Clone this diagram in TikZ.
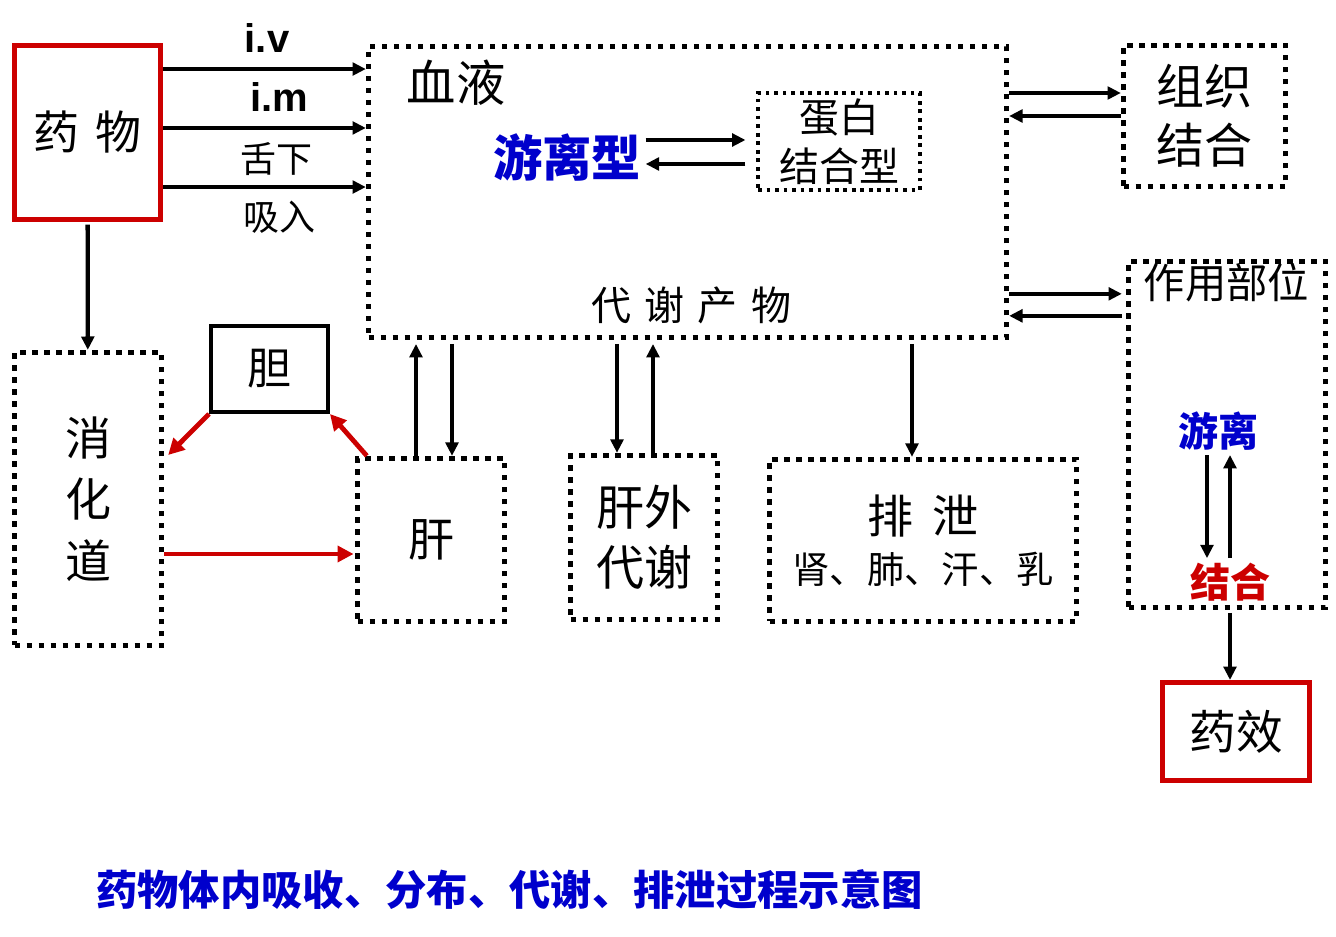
\documentclass[tikz,border=0pt]{standalone}
\usepackage{fontspec}
\setmainfont{Noto Sans CJK SC}
\newfontfamily\latin{Liberation Sans}
\usetikzlibrary{positioning,arrows.meta}
\definecolor{dred}{HTML}{CC0000}
\definecolor{dblue}{HTML}{0000CC}
\newcommand\fsz[2]{\fontsize{#1}{#2}\selectfont}

\begin{document}
\begin{tikzpicture}[x=0.75pt,y=-0.75pt,
  dotbox/.style={draw,line width=4pt,dash pattern=on 4pt off 5pt,inner sep=0,align=center},
  thinbox/.style={dotbox,line width=2.8pt,dash pattern=on 2.8pt off 3.6pt},
  redbox/.style={draw=dred,line width=3.8pt,inner sep=0,align=center},
  arr/.style={-{Triangle[length=10pt,width=9.5pt]},line width=3.2pt},
  rarr/.style={-{Triangle[length=12pt,width=12pt]},line width=3.6pt,dred}]
  \useasboundingbox (0,0) rectangle (1336,937);
  % boxes
  \node[redbox,minimum width=109.5pt,minimum height=130.5pt,font=\fsz{34.5}{40}] (drug) at (87.5,132.5) {药\hspace{12pt}物};
  \node[dotbox,minimum width=478.5pt,minimum height=218pt] (blood) at (687.5,192) {};
  \node[font=\fsz{37}{44}] (bl) at (456,83) {血液};
  \node[text=dblue,font=\bfseries\fsz{37}{44}] (free) at (567,157) {游离型};
  \node[thinbox,minimum width=121.5pt,minimum height=72.75pt,font=\fsz{30}{37}] (prot) at (839,141.5) {蛋白\\结合型};
  \node[font=\fsz{30}{36}] (meta) at (691,305) {代\hspace{10pt}谢\hspace{10pt}产\hspace{10pt}物};
  \node[dotbox,minimum width=121.5pt,minimum height=105.75pt,font=\fsz{36}{44.6}] (tissue) at (1204.5,116) {组织\\结合};
  \node[dotbox,minimum width=147.75pt,minimum height=259.5pt] (site) at (1227,434.5) {};
  \node[font=\fsz{31}{36}] (sitelbl) at (1226.5,283) {作用部位};
  \node[text=dblue,font=\bfseries\fsz{30}{36}] (fr2) at (1218,431) {游离};
  \node[text=dred,font=\bfseries\fsz{30}{36}] (bd2) at (1230,582) {结合};
  \node[redbox,minimum width=110.25pt,minimum height=73.5pt,font=\fsz{35}{40}] (effect) at (1236,731.5) {药效};
  \node[dotbox,minimum width=110.25pt,minimum height=219.75pt,font=\fsz{34.5}{46}] (gut) at (88,499) {消\\化\\道};
  \node[draw,line width=3pt,minimum width=87.75pt,minimum height=64.5pt,font=\fsz{33}{38}] (bile) at (269.5,369) {胆};
  \node[dotbox,minimum width=110.25pt,minimum height=122.25pt,font=\fsz{34.5}{40}] (liver) at (431,540) {肝};
  \node[dotbox,minimum width=110.25pt,minimum height=123pt,font=\fsz{36}{45}] (extra) at (644,537.5) {肝外\\代谢};
  \node[dotbox,minimum width=230.25pt,minimum height=121.5pt,font=\fsz{34.5}{37.5}] (excr) at (923,540.5)
    {排\hspace{14pt}泄\\\fsz{28}{34}肾、肺、汗、乳};
  % route labels
  \node[font=\latin\bfseries\fsz{30}{36},anchor=base] (iv) at (267,53) {i.v};
  \node[font=\latin\bfseries\fsz{30}{36},anchor=base] (im) at (279,112) {i.m};
  \node[font=\fsz{27}{32}] (sub) at (276,159) {舌下};
  \node[font=\fsz{27}{32}] (inh) at (279,217) {吸入};
  % drug -> blood
  \foreach \s/\n in {47.6/a1,3.4/a2,-40.9/a3}{
    \coordinate (\n) at ([yshift=\s pt]drug.east);
    \draw[arr] (\n) -- (\n -| blood.west);
  }
  \draw[arr,shorten <=2pt] (drug) -- (gut);
  % free <-> bound in blood
  \coordinate (f1) at ([yshift=12.75pt]free.east);
  \coordinate (f2) at ([yshift=-5.25pt]free.east);
  \draw[arr,shorten >=8pt] (f1) -- (f1 -| prot.west);
  \draw[arr,shorten <=8pt] (f2 -| prot.west) -- (f2);
  % blood <-> tissue, site
  \coordinate (t1) at ([yshift=17.25pt]tissue.west);
  \coordinate (t2) at (tissue.west);
  \draw[arr] (t1 -| blood.east) -- (t1);
  \draw[arr] (t2) -- (t2 -| blood.east);
  \coordinate (s1) at ([yshift=-26.25pt]site.north west);
  \coordinate (s2) at ([yshift=-42.75pt]site.north west);
  \draw[arr,shorten >=3pt] (s1 -| blood.east) -- (s1);
  \draw[arr,shorten <=3pt] (s2) -- (s2 -| blood.east);
  % blood <-> liver, extra, excretion
  \coordinate (l1) at ([xshift=-11.25pt]liver.north);
  \coordinate (l2) at ([xshift=15.75pt]liver.north);
  \draw[arr,shorten >=3pt] (l1) -- (l1 |- blood.south);
  \draw[arr,shorten <=3pt] (l2 |- blood.south) -- (l2);
  \coordinate (x1) at ([xshift=-20.25pt]extra.north);
  \coordinate (x2) at ([xshift=6.75pt]extra.north);
  \draw[arr,shorten <=3pt] (x1 |- blood.south) -- (x1);
  \draw[arr,shorten >=3pt] (x2) -- (x2 |- blood.south);
  \coordinate (k1) at ([xshift=-8.25pt]excr.north);
  \draw[arr,shorten <=3pt] (k1 |- blood.south) -- (k1);
  % site
  \coordinate (r1) at ([xshift=-8.25pt]fr2.south);
  \coordinate (r2) at ([xshift=9pt]fr2.south);
  \draw[arr] (r1) -- (r1 |- bd2.north);
  \draw[arr] (r2 |- bd2.north) -- (r2);
  \coordinate (e1) at ([xshift=2.25pt]site.south);
  \draw[arr,line width=3.6pt,shorten <=2pt] (e1) -- (e1 |- effect.north);
  % enterohepatic loop
  \draw[rarr] (bile.south west) -- ([xshift=3pt,yshift=33pt]gut.east);
  \draw[rarr] ([xshift=9pt]liver.north west) -- (bile.south east);
  \coordinate (g1) at ([yshift=-41.25pt]gut.east);
  \draw[rarr,line width=2.8pt,shorten >=1pt] (g1) -- (g1 -| liver.west);
  % caption
  \node[text=dblue,font=\bfseries\fsz{31}{36}] (cap) at (509.5,890) {药物体内吸收、分布、代谢、排泄过程示意图};
\end{tikzpicture}
\end{document}
